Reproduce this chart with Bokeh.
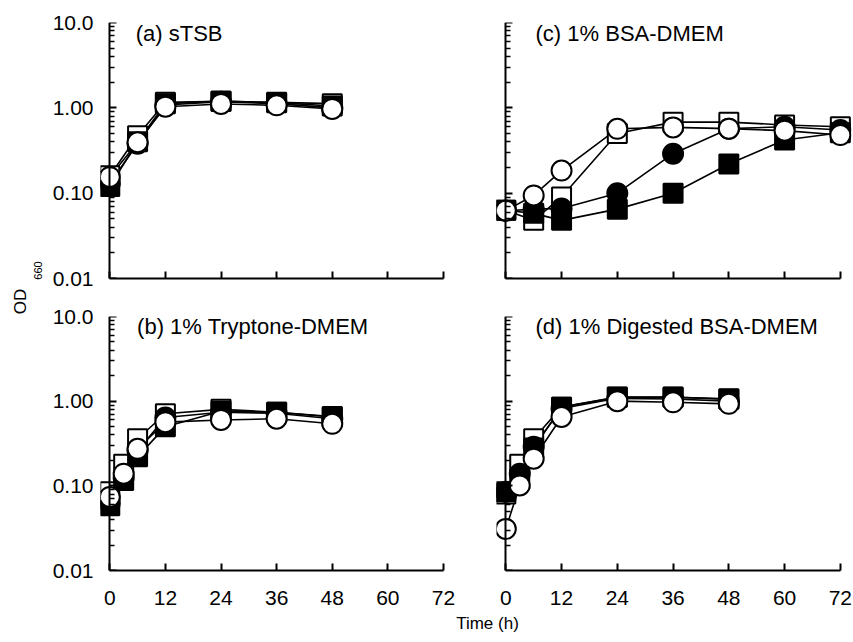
from bokeh.plotting import figure
from bokeh.layouts import row, column
from bokeh.models import Range1d, FixedTicker, Label, LogAxis
from bokeh.embed import file_html
from bokeh.resources import INLINE

FONT = "Liberation Sans"

# ---------------- data ----------------
x_ticks = [0, 12, 24, 36, 48, 60, 72]
y_ticks = [0.01, 0.1, 1, 10]
y_tick_labels = ["0.01", "0.10", "1.00", "10.0"]

t_a = [0, 6, 12, 24, 36, 48]
a_fsq = [0.12, 0.40, 1.12, 1.20, 1.15, 1.05]
a_osq = [0.16, 0.47, 1.16, 1.19, 1.16, 1.12]
a_fci = [0.13, 0.38, 1.08, 1.18, 1.12, 1.00]
a_oci = [0.155, 0.395, 1.03, 1.11, 1.07, 0.97]

t_b = [0, 3, 6, 12, 24, 36, 48]
b_fsq = [0.058, 0.116, 0.22, 0.50, 0.76, 0.74, 0.65]
b_osq = [0.085, 0.18, 0.36, 0.71, 0.80, 0.74, 0.66]
b_fci = [0.062, 0.125, 0.26, 0.64, 0.74, 0.72, 0.62]
b_oci = [0.074, 0.139, 0.274, 0.565, 0.60, 0.62, 0.54]

t_c = [0, 6, 12, 24, 36, 48, 60, 72]
c_fsq = [0.063, 0.058, 0.048, 0.065, 0.10, 0.22, 0.42, 0.51]
c_osq = [0.063, 0.048, 0.09, 0.50, 0.68, 0.68, 0.63, 0.60]
c_fci = [0.062, 0.065, 0.066, 0.10, 0.29, 0.57, 0.60, 0.55]
c_oci = [0.0625, 0.094, 0.184, 0.568, 0.59, 0.57, 0.54, 0.48]

t_d = [0, 3, 6, 12, 24, 36, 48]
d_fsq = [0.085, 0.12, 0.28, 0.85, 1.12, 1.12, 1.05]
d_osq = [0.08, 0.18, 0.36, 0.85, 1.11, 1.11, 1.07]
d_fci = [0.085, 0.139, 0.29, 0.82, 1.08, 1.06, 1.00]
d_oci = [0.031, 0.101, 0.209, 0.65, 1.0, 0.97, 0.93]

titles = ["(a) sTSB", "(b) 1% Tryptone-DMEM", "(c) 1% BSA-DMEM", "(d) 1% Digested BSA-DMEM"]
y_label_main = "OD"
y_label_sub = "660"
x_label = "Time (h)"

minor = [m * 10.0 ** e for e in (-2, -1, 0) for m in range(2, 10)]


def style_rule_axis(ax):
    """Axis drawn at x = 0: line and inward ticks only."""
    ax.ticker = FixedTicker(ticks=y_ticks, minor_ticks=minor)
    ax.bounds = (0.01, 10)
    ax.fixed_location = 0
    ax.axis_line_width = 2
    ax.major_tick_line_width = 2
    ax.minor_tick_line_width = 1.5
    ax.major_tick_in = 7
    ax.major_tick_out = 0
    ax.minor_tick_in = 5
    ax.minor_tick_out = 0
    ax.major_label_standoff = 0
    ax.major_label_text_color = None
    ax.major_label_text_font_size = "1px"


def panel(t, fsq, osq, fci, oci, title, title_x, title_y, left_labels, bottom_labels,
          x_end, fw, fh, bl, br, bt, bb):
    p = figure(x_range=Range1d(-2, x_end), y_range=Range1d(0.01, 10), y_axis_type="log",
               frame_width=fw, frame_height=fh, min_border=0,
               min_border_left=bl, min_border_right=br, min_border_top=bt, min_border_bottom=bb,
               toolbar_location=None, output_backend="svg", background_fill_color="white",
               border_fill_color="white")
    p.outline_line_color = None
    p.grid.visible = False

    xa = p.xaxis[0]
    xa.ticker = FixedTicker(ticks=x_ticks)
    xa.bounds = (0, 72)
    xa.axis_line_width = 2
    xa.major_tick_line_width = 2
    xa.major_tick_in = 7
    xa.major_tick_out = 0
    xa.minor_tick_line_color = None
    xa.major_label_text_font = FONT
    if bottom_labels:
        xa.major_label_standoff = 20
        xa.major_label_text_color = "black"
        xa.major_label_text_font_size = "21px"
    else:
        xa.major_label_standoff = 0
        xa.major_label_text_color = None
        xa.major_label_text_font_size = "1px"

    ya = p.yaxis[0]
    if left_labels:
        # labels-only axis at the frame edge
        ya.ticker = FixedTicker(ticks=y_ticks)
        ya.axis_line_color = None
        ya.major_tick_line_color = None
        ya.minor_tick_line_color = None
        ya.major_tick_in = 0
        ya.major_tick_out = 0
        ya.minor_tick_in = 0
        ya.minor_tick_out = 0
        ya.major_label_standoff = 7
        ya.major_label_text_font = FONT
        ya.major_label_text_color = "black"
        ya.major_label_text_font_size = "21px"
        ya.major_label_overrides = {tk: lb for tk, lb in zip(y_ticks, y_tick_labels)}
        rule = LogAxis()
        style_rule_axis(rule)
        p.add_layout(rule, "left")
    else:
        style_rule_axis(ya)

    for vals in (osq, fsq, fci, oci):
        p.line(t, vals, line_color="black", line_width=1.6)
    p.scatter(t, osq, marker="square", size=19, fill_color="white", line_color="black", line_width=2)
    p.scatter(t, fsq, marker="square", size=19, fill_color="black", line_color="black", line_width=2)
    p.scatter(t, fci, marker="circle", size=20, fill_color="black", line_color="black", line_width=2)
    p.scatter(t, oci, marker="circle", size=20, fill_color="white", line_color="black", line_width=2)

    p.add_layout(Label(x=title_x, y=title_y, text=title, text_font=FONT, text_font_size="22px",
                       text_align="left", text_baseline="alphabetic", text_color="black"))
    return p


pa = panel(t_a, a_fsq, a_osq, a_fci, a_oci, titles[0], 5.6, 7.51, True, False,
           72, 343, 256, 56, 27, 22, 16)
pc = panel(t_c, c_fsq, c_osq, c_fci, c_oci, titles[2], 6.4, 7.51, False, False,
           74.4, 355, 256, 26, 2, 22, 16)
pb = panel(t_b, b_fsq, b_osq, b_fci, b_oci, titles[1], 5.9, 7.60, True, True,
           72, 343, 254, 56, 27, 22, 44)
pd = panel(t_d, d_fsq, d_osq, d_fci, d_oci, titles[3], 6.4, 7.60, False, True,
           74.4, 355, 254, 26, 2, 22, 44)

# y-axis title figure
ylab = figure(x_range=Range1d(0, 44), y_range=Range1d(0, 642), frame_width=44, frame_height=642,
              min_border=0, x_axis_type=None, y_axis_type=None, toolbar_location=None,
              output_backend="svg")
ylab.outline_line_color = None
ylab.grid.visible = False
ylab.add_layout(Label(x=20, y=341, text=y_label_main, angle=1.5707963, text_font=FONT,
                      text_font_size="17px", text_align="center", text_baseline="middle",
                      text_color="black"))
ylab.add_layout(Label(x=37, y=372, text=y_label_sub, angle=1.5707963, text_font=FONT,
                      text_font_size="11px", text_align="center", text_baseline="middle",
                      text_color="black"))

# x-axis title figure
xlab = figure(x_range=Range1d(0, 809), y_range=Range1d(0, 28), frame_width=809, frame_height=28,
              min_border=0, x_axis_type=None, y_axis_type=None, toolbar_location=None,
              output_backend="svg")
xlab.outline_line_color = None
xlab.grid.visible = False
xlab.add_layout(Label(x=443, y=19, text=x_label, text_font=FONT, text_font_size="17px",
                      text_align="center", text_baseline="middle", text_color="black"))

layout = row(ylab, column(row(pa, pc), row(pb, pd), xlab))

open("out.html", "w").write(file_html(layout, INLINE))
